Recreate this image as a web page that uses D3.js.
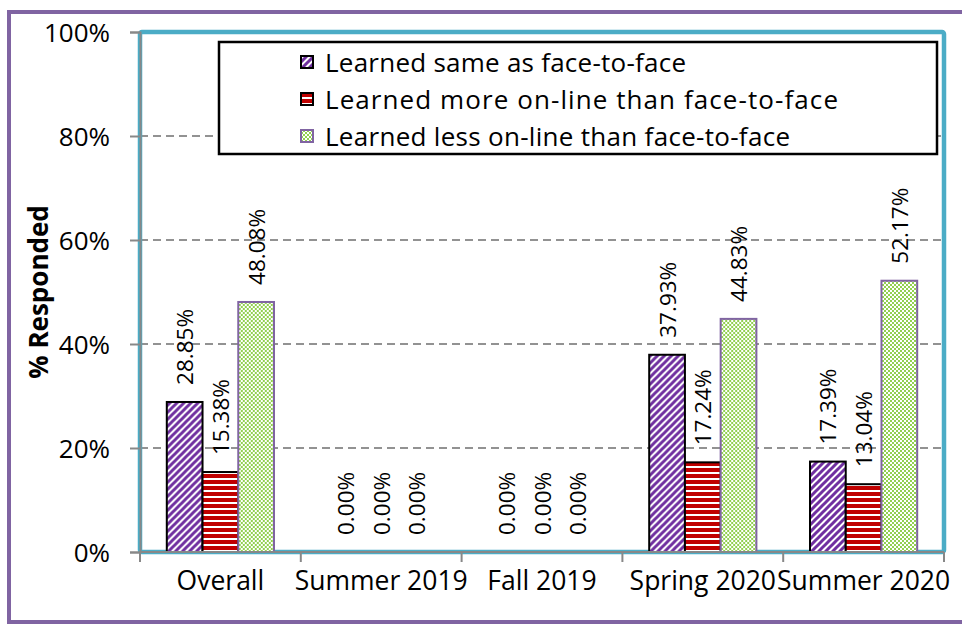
<!DOCTYPE html>
<html>
<head>
<meta charset="utf-8">
<script src="https://cdn.jsdelivr.net/npm/d3@7"></script>
<style>
  body { margin: 0; background: #fff; }
  text { font-family: "Open Sans", sans-serif; fill: #000; }
</style>
</head>
<body>
<div id="idChart"></div>
<script>
var categories = ["Overall", "Summer 2019", "Fall 2019", "Spring 2020", "Summer 2020"];
var seriesNames = ["Learned same as face-to-face", "Learned more on-line than face-to-face", "Learned less on-line than face-to-face"];
var sameValues = [28.85, 0, 0, 37.93, 17.39];
var moreValues = [15.38, 0, 0, 17.24, 13.04];
var lessValues = [48.08, 0, 0, 44.83, 52.17];
var yTicks = [0, 20, 40, 60, 80, 100];

var seriesValues = [sameValues, moreValues, lessValues];
var fills = ["url(#patSame)", "url(#patMore)", "url(#patLess)"];
var strokes = ["#000", "#000", "#8064A2"];
var legendTextW = [361, 513, 465];

var iWidth = 962, iHeight = 625;
var plot = {left: 140, right: 944, top: 32, bottom: 552};

var svg = d3.select("#idChart").append("svg")
    .attr("width", iWidth).attr("height", iHeight);

// patterns
var defs = svg.append("defs");
var p1 = defs.append("pattern").attr("id", "patSame").attr("patternUnits", "userSpaceOnUse")
    .attr("width", 7).attr("height", 7);
p1.append("rect").attr("width", 7).attr("height", 7).attr("fill", "#fff");
p1.append("path").attr("d", "M-1,8 L8,-1 M-4,4 L4,-4 M3,11 L11,3")
    .attr("stroke", "#7030A0").attr("stroke-width", 3);

var p2 = defs.append("pattern").attr("id", "patMore").attr("patternUnits", "userSpaceOnUse")
    .attr("width", 6).attr("height", 6).attr("y", plot.bottom);
p2.append("rect").attr("width", 6).attr("height", 6).attr("fill", "#fff");
p2.append("rect").attr("width", 6).attr("height", 4).attr("fill", "#C00000");

var p3 = defs.append("pattern").attr("id", "patLess").attr("patternUnits", "userSpaceOnUse")
    .attr("width", 4).attr("height", 4);
p3.append("rect").attr("width", 4).attr("height", 4).attr("fill", "#fff");
p3.append("rect").attr("width", 2).attr("height", 2).attr("fill", "#92D050");
p3.append("rect").attr("x", 2).attr("y", 2).attr("width", 2).attr("height", 2).attr("fill", "#92D050");

// outer chart border
svg.append("rect")
    .attr("x", 9).attr("y", 12).attr("width", 960).attr("height", 610)
    .attr("fill", "none").attr("stroke", "#8064A2").attr("stroke-width", 4);

var y = d3.scaleLinear().domain([0, 100]).range([plot.bottom, plot.top]);
var x = d3.scaleBand().domain(categories).range([plot.left, plot.right]);
var groupW = x.bandwidth() * 2 / 3;
var xSub = d3.scaleBand().domain([0, 1, 2]).range([0, groupW]);

// gridlines
svg.append("g").selectAll("line")
    .data(yTicks.filter(function(d) { return d > 0 && d < 100; }))
    .enter().append("line")
    .attr("x1", plot.left).attr("x2", plot.right)
    .attr("y1", function(d) { return y(d); }).attr("y2", function(d) { return y(d); })
    .attr("stroke", "#929292").attr("stroke-width", 2).attr("stroke-dasharray", "8,5");

// plot area border
svg.append("rect")
    .attr("x", plot.left).attr("y", plot.top)
    .attr("width", plot.right - plot.left).attr("height", plot.bottom - plot.top)
    .attr("rx", 2)
    .attr("fill", "none").attr("stroke", "#4BACC6").attr("stroke-width", 4.5);

// bars
var groups = svg.append("g").selectAll("g")
    .data(categories).enter().append("g")
    .attr("transform", function(d) { return "translate(" + (x(d) + (x.bandwidth() - groupW) / 2) + ",0)"; });

groups.selectAll("rect")
    .data(function(d, i) { return seriesValues.map(function(s, j) { return {s: j, v: s[i]}; }); })
    .enter().append("rect")
    .filter(function(d) { return d.v > 0; })
    .attr("x", function(d) { return xSub(d.s); })
    .attr("width", xSub.bandwidth())
    .attr("y", function(d) { return y(d.v); })
    .attr("height", function(d) { return y(0) - y(d.v); })
    .attr("fill", function(d) { return fills[d.s]; })
    .attr("stroke", function(d) { return strokes[d.s]; })
    .attr("stroke-width", 2);

groups.selectAll("text")
    .data(function(d, i) { return seriesValues.map(function(s, j) { return {s: j, v: s[i]}; }); })
    .enter().append("text")
    .attr("transform", function(d) {
        return "translate(" + (xSub(d.s) + xSub.bandwidth() / 2) + "," + (y(d.v) - 17) + ") rotate(-90)";
    })
    .attr("dominant-baseline", "central")
    .style("font-size", "22.5px")
    .text(function(d) { return d.v.toFixed(2) + "%"; });

// axes
var yAxis = d3.axisLeft(y).tickValues(yTicks).tickSize(10).tickPadding(20)
    .tickFormat(function(d) { return d + "%"; });
var gy = svg.append("g").attr("transform", "translate(" + plot.left + ",0)").call(yAxis);
gy.select(".domain").attr("stroke", "#888").attr("stroke-width", 2);
gy.selectAll(".tick line").attr("stroke", "#888").attr("stroke-width", 2);
gy.selectAll(".tick text").style("font-size", "26px").attr("dy", "0.35em");

var xAxis = d3.axisBottom(x).tickSize(0).tickPadding(19);
var gx = svg.append("g").attr("transform", "translate(0," + plot.bottom + ")").call(xAxis);
gx.select(".domain").attr("stroke", "#888").attr("stroke-width", 2).attr("d", "M" + plot.left + ",0H" + plot.right);
gx.selectAll(".tick text").style("font-size", "26.5px").attr("dy", "0.71em");
gx.selectAll(".sep").data(d3.range(categories.length + 1)).enter().append("line")
    .attr("class", "sep")
    .attr("x1", function(d) { return plot.left + d * x.step(); })
    .attr("x2", function(d) { return plot.left + d * x.step(); })
    .attr("y1", 0).attr("y2", 10)
    .attr("stroke", "#888").attr("stroke-width", 2);

svg.append("text")
    .attr("transform", "translate(38," + ((plot.top + plot.bottom) / 2) + ") rotate(-90)")
    .attr("text-anchor", "middle").attr("dominant-baseline", "central")
    .style("font-size", "26px").style("font-weight", "bold")
    .text("% Responded");

// legend
var legend = svg.append("g");
legend.append("rect")
    .attr("x", 219).attr("y", 42).attr("width", 718).attr("height", 112)
    .attr("fill", "#fff").attr("stroke", "#000").attr("stroke-width", 2.5);
var items = legend.selectAll("g.item").data(seriesNames).enter().append("g")
    .attr("class", "item")
    .attr("transform", function(d, i) { return "translate(301," + (62 + i * 37) + ")"; });
items.append("rect")
    .attr("x", 0).attr("y", -6).attr("width", 12).attr("height", 12)
    .attr("fill", function(d, i) { return fills[i]; })
    .attr("stroke", function(d, i) { return strokes[i]; })
    .attr("stroke-width", 2);
items.append("text")
    .attr("x", 24).attr("dominant-baseline", "central")
    .attr("textLength", function(d, i) { return legendTextW[i]; })
    .attr("lengthAdjust", "spacing")
    .style("font-size", "26px")
    .text(function(d) { return d; });
</script>
</body>
</html>
